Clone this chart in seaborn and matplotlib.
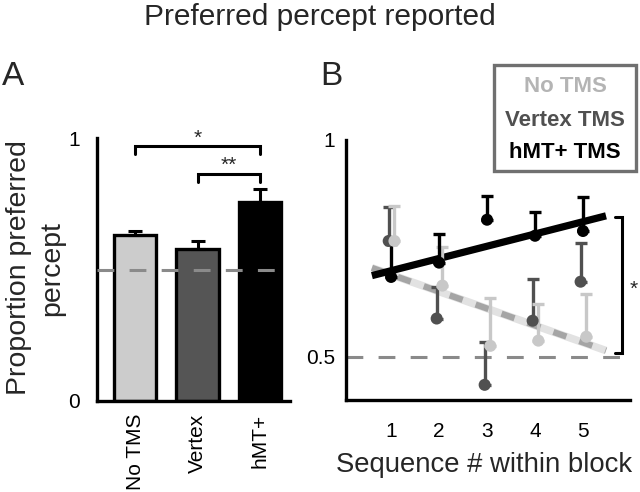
import numpy as np
import pandas as pd
import matplotlib
matplotlib.use("Agg")
import matplotlib.pyplot as plt
from matplotlib.patches import Rectangle
import seaborn as sns

# ---------------- data ----------------
conditions = ["No TMS", "Vertex", "hMT+"]
bar_means = [0.632, 0.577, 0.755]
bar_sem = [0.016, 0.031, 0.050]

sequence = [1, 2, 3, 4, 5]
notms_mean = [0.767, 0.664, 0.525, 0.537, 0.546]
notms_sem = [0.081, 0.089, 0.111, 0.085, 0.099]
vertex_mean = [0.767, 0.588, 0.435, 0.583, 0.673]
vertex_sem = [0.078, 0.073, 0.100, 0.097, 0.090]
hmt_mean = [0.684, 0.717, 0.816, 0.779, 0.790]
hmt_sem = [0.076, 0.066, 0.055, 0.055, 0.079]

fit_x = [0.6, 5.48]
hmt_fit = [0.687, 0.825]
control_fit = [0.705, 0.514]

legend_labels = ["No TMS", "Vertex TMS", "hMT+ TMS"]

# ---------------- style ----------------
sns.set_theme(style="white")
plt.rcParams["font.family"] = ["Liberation Sans", "DejaVu Sans"]

light = "#c8c8c8"
dark = "#505050"
black = "#000000"
bar_colors = ["#cccccc", "#555555", "#000000"]
ref_gray = "#8a8a8a"

fig = plt.figure(figsize=(6.4, 4.92), dpi=100)
W, H = 640, 492

def fax(l, t, r, b):
    return fig.add_axes([l / W, 1 - b / H, (r - l) / W, (b - t) / H])

# ---------------- panel A ----------------
axA = fax(97, 138, 290, 401)
dfA = pd.DataFrame({"cond": conditions, "val": bar_means})
sns.barplot(data=dfA, x="cond", y="val", hue="cond", palette=bar_colors,
            width=0.68, edgecolor="black", linewidth=2.4, errorbar=None,
            legend=False, ax=axA, zorder=2)
xs = np.arange(len(conditions))
axA.errorbar(xs, bar_means, yerr=[np.zeros(3), bar_sem], fmt="none",
             ecolor="black", elinewidth=2.2, capsize=5, capthick=2.2, zorder=3)
axA.axhline(0.5, color=ref_gray, lw=2.2, ls=(0, (5.5, 5)), zorder=4)
axA.set_ylim(0, 1)
axA.set_xlim(-0.61, 2.48)
axA.set_yticks([0, 1])
axA.set_yticklabels(["0", "1"])
axA.set_xticks(xs)
axA.set_xticklabels(conditions, rotation=90, va="top")
axA.set_xlabel("")
axA.set_ylabel("")
axA.tick_params(axis="both", length=0, labelsize=15, colors="black")
axA.tick_params(axis="x", pad=9)
axA.tick_params(axis="y", pad=12)
for s in ["top", "right"]:
    axA.spines[s].set_visible(False)
for s in ["left", "bottom"]:
    axA.spines[s].set_linewidth(2.4)
    axA.spines[s].set_color("black")

# significance brackets
def bracket(ax, x0, x1, y, drop, label, ty):
    ax.plot([x0, x0, x1, x1], [y - drop, y, y, y - drop], color="black",
            lw=2.2, clip_on=False, solid_joinstyle="miter")
    ax.text((x0 + x1) / 2, ty, label, ha="center", va="center", fontsize=15)

bracket(axA, 0, 2, 0.97, 0.03, "*", 1.0)
bracket(axA, 1, 2, 0.863, 0.03, "**", 0.895)

# ---------------- panel B ----------------
axB = fax(346, 140, 630, 400)
axB.axhline(0.5, color=ref_gray, lw=2.2, ls=(0, (5.5, 5)), zorder=1)

fit_df = pd.DataFrame({"x": fit_x, "hmt": hmt_fit, "ctrl": control_fit})
sns.lineplot(data=fit_df, x="x", y="ctrl", color="#e2e2e2", lw=5.5,
             ax=axB, zorder=2, solid_capstyle="butt")
sns.lineplot(data=fit_df, x="x", y="ctrl", color="#a5a5a5", lw=4.5,
             ax=axB, zorder=2.1, dashes=False, linestyle=(0, (2.2, 2.2)))
sns.lineplot(data=fit_df, x="x", y="hmt", color="black", lw=5.2,
             ax=axB, zorder=2.2, solid_capstyle="butt")

series = [
    (vertex_mean, vertex_sem, dark, -0.05),
    (notms_mean, notms_sem, light, 0.07),
    (hmt_mean, hmt_sem, black, 0.0),
]
for mean, sem, col, off in series:
    x = np.array(sequence) + off
    axB.errorbar(x, mean, yerr=[np.zeros(len(mean)), sem], fmt="none",
                 ecolor=col, elinewidth=2.4, capsize=4, capthick=2.4, zorder=3)
    d = pd.DataFrame({"x": x, "y": mean})
    sns.scatterplot(data=d, x="x", y="y", color=col, s=75, edgecolor="none",
                    ax=axB, zorder=4)

axB.set_ylim(0.4, 1.0)
axB.set_xlim(0.06, 5.98)
axB.set_xticks(sequence)
axB.set_xticklabels([str(s) for s in sequence])
axB.set_yticks([0.5, 1.0])
axB.set_yticklabels(["0.5", "1"])
axB.set_xlabel("")
axB.set_ylabel("")
axB.tick_params(axis="both", length=0, labelsize=15, colors="black")
axB.tick_params(axis="x", pad=16)
axB.tick_params(axis="y", pad=8)
for s in ["top", "right"]:
    axB.spines[s].set_visible(False)
for s in ["left", "bottom"]:
    axB.spines[s].set_linewidth(2.4)
    axB.spines[s].set_color("black")

# right bracket
axB.plot([5.67, 5.81, 5.81, 5.67], [0.823, 0.823, 0.509, 0.509], color="black",
         lw=2.2, clip_on=False, solid_joinstyle="miter")
axB.text(6.06, 0.655, "*", ha="center", va="center", fontsize=15, clip_on=False)

# legend box
fig.patches.append(Rectangle((494 / W, 1 - 171 / H), 142 / W, 106 / H,
                             transform=fig.transFigure, fill=False,
                             edgecolor="#707070", lw=2.4))
for lab, col, yy in zip(legend_labels, ["#b4b4b4", dark, black], [86, 120, 152]):
    fig.text(565 / W, 1 - yy / H, lab, ha="center", va="center",
             fontsize=16, fontweight="bold", color=col)

# texts
fig.text(0.5, 1 - 17 / H, "Preferred percept reported", ha="center",
         va="center", fontsize=21.5)
fig.text(336 / W, 1 - 465 / H, "Sequence # within block", ha="left",
         va="center", fontsize=19.8)
fig.text(2 / W, 1 - 76 / H, "A", ha="left", va="center", fontsize=24)
fig.text(320 / W, 1 - 76 / H, "B", ha="left", va="center", fontsize=24)
fig.text(36 / W, 1 - 268 / H, "Proportion preferred\npercept", rotation=90,
         ha="center", va="center", fontsize=20.5, linespacing=1.35,
         multialignment="center")

fig.savefig("out.png", dpi=100)
